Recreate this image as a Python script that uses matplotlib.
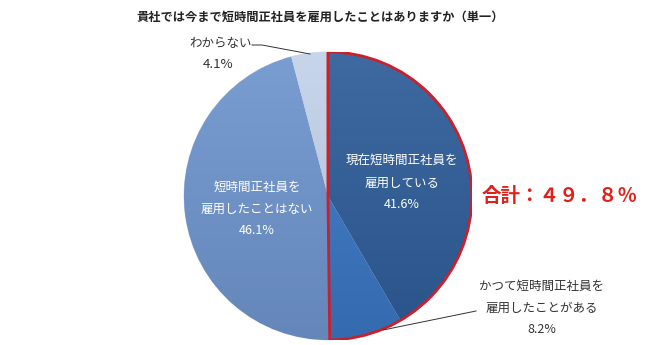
import numpy as np
import matplotlib
matplotlib.use('Agg')
import matplotlib.pyplot as plt
from matplotlib.patches import Wedge
from matplotlib.colors import to_rgb

plt.rcParams['font.family'] = ['Noto Sans CJK JP', 'DejaVu Sans']

# 回答データ（単一回答）
labels = ['現在短時間正社員を\n雇用している', 'かつて短時間正社員を\n雇用したことがある',
          '短時間正社員を\n雇用したことはない', 'わからない']
values = [41.6, 8.2, 46.1, 4.1]
colors = ['#2E5D99', '#3A77C3', '#6F95CE', '#C3D2EA']
title = '貴社では今まで短時間正社員を雇用したことはありますか（単一）'
total_label = '合計：４９．８％'

fig = plt.figure(figsize=(6.5, 3.45), dpi=100)
ax = fig.add_axes([0.283, 0.0145, 0.443, 0.835])

wedges, _ = ax.pie(values, startangle=90, counterclock=False, colors=colors, radius=1,
                   wedgeprops=dict(edgecolor='#d8e0ec', linewidth=0.6))

# 各扇形に上下のグラデーションをかける
yy = np.linspace(1, -1, 200)[:, None] * np.ones((1, 2))
for w, c in zip(wedges, colors):
    base = np.array(to_rgb(c))
    t = (yy + 1) / 2
    light = base + (1 - base) * 0.08
    dark = base * 0.9
    img = dark[None, None, :] * (1 - t[..., None]) + light[None, None, :] * t[..., None]
    im = ax.imshow(img, extent=[-1, 1, -1, 1], zorder=1.5, aspect='auto')
    im.set_clip_path(w)

# 「雇用している」＋「雇用したことがある」を赤枠で囲む
share = values[0] + values[1]
ax.add_patch(Wedge((0, 0), 1, 90 - 360 * share / 100, 90, fill=False,
                   edgecolor='#C8202C', linewidth=2, zorder=3))
ax.set_xlim(-1, 1)
ax.set_ylim(-1, 1)
ax.axis('off')

def px(x, y):
    return x / 650, 1 - y / 345

kw = dict(ha='center', va='center', fontsize=9, linespacing=1.85)
fig.text(*px(402, 183), f'{labels[0]}\n{values[0]:.1f}%', color='white', **kw)
fig.text(*px(257, 209), f'{labels[2]}\n{values[2]:.1f}%', color='white', **kw)
fig.text(*px(542, 308), f'{labels[1]}\n{values[1]:.1f}%', color='#333333', **kw)
fig.text(*px(221, 43), labels[3], color='#333333', ha='center', va='center', fontsize=9)
fig.text(*px(218, 65), f'{values[3]:.1f}%', color='#333333', ha='center', va='center', fontsize=9.5)

# 引き出し線
fig.add_artist(plt.Line2D([252 / 650, 262 / 650, 310 / 650],
                          [1 - 45 / 345, 1 - 45 / 345, 1 - 54 / 345], color='#333333', lw=0.7))
fig.add_artist(plt.Line2D([383 / 650, 476 / 650],
                          [1 - 330 / 345, 1 - 311 / 345], color='#333333', lw=0.7))

fig.text(*px(560, 196), total_label, color='#E0201B', fontsize=14, fontweight='bold',
         ha='center', va='center')
fig.text(*px(320, 17), title, color='#222222', fontsize=8.8, fontweight='bold',
         ha='center', va='center')

fig.savefig('out.png', dpi=100)
